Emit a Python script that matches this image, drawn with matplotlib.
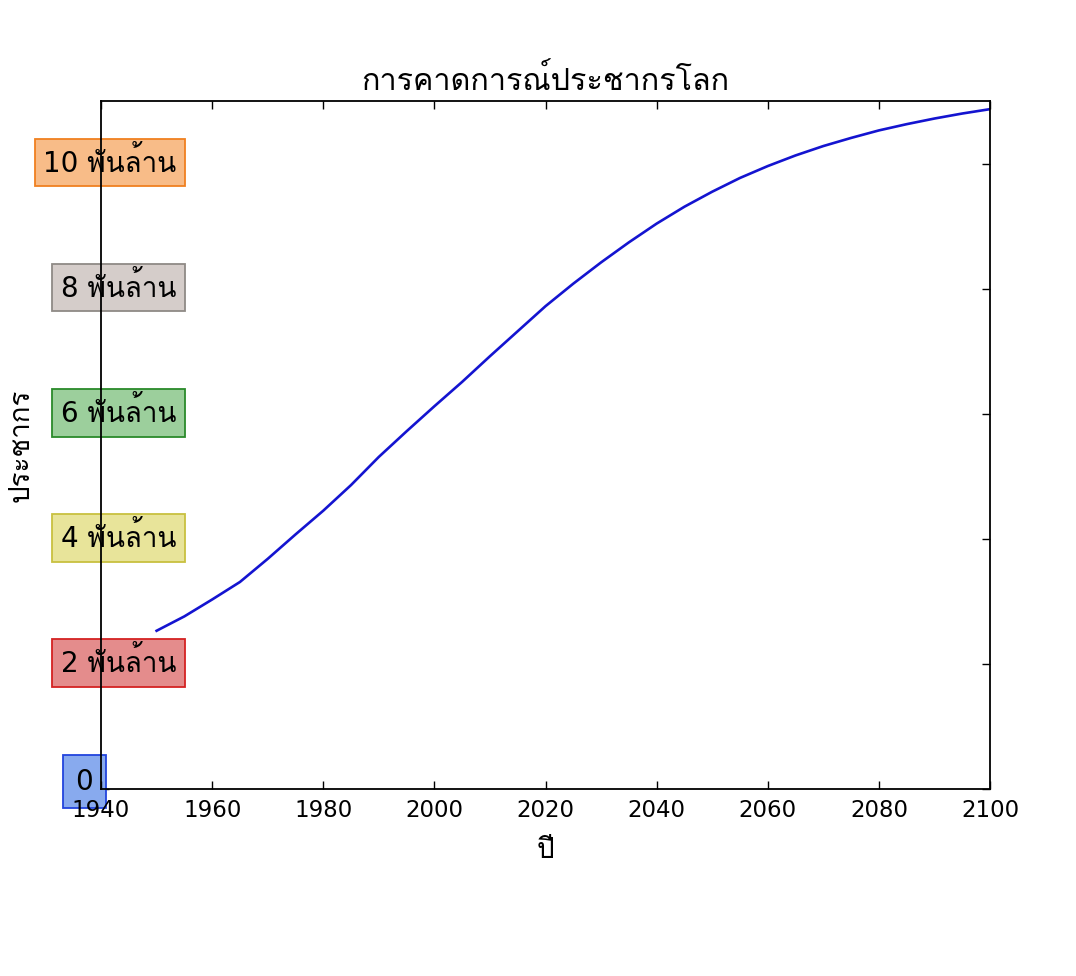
import matplotlib
matplotlib.use("Agg")
import matplotlib.pyplot as plt
import matplotlib.transforms as mtransforms
from matplotlib import font_manager
from matplotlib.ft2font import FT2Font

# world population, billions (UN medium variant)
years = [1950, 1955, 1960, 1965, 1970, 1975, 1980, 1985, 1990, 1995, 2000,
         2005, 2010, 2015, 2020, 2025, 2030, 2035, 2040, 2045, 2050, 2055,
         2060, 2065, 2070, 2075, 2080, 2085, 2090, 2095, 2100]
population = [2.53, 2.76, 3.03, 3.31, 3.68, 4.07, 4.45, 4.86, 5.31, 5.72, 6.12,
              6.51, 6.92, 7.32, 7.72, 8.08, 8.42, 8.74, 9.04, 9.31, 9.55, 9.77,
              9.96, 10.13, 10.28, 10.41, 10.53, 10.63, 10.72, 10.80, 10.87]
ytick_values = [0, 2, 4, 6, 8, 10]
ytick_labels = ["0", "2 พันล้าน", "4 พันล้าน", "6 พันล้าน", "8 พันล้าน", "10 พันล้าน"]
xtick_values = [1940, 1960, 1980, 2000, 2020, 2040, 2060, 2080, 2100]

box_faces = ["#88aaee", "#e48c8c", "#e8e49a", "#9ccf9c", "#d5cdca", "#f8bc88"]
box_edges = ["#2244dd", "#d42222", "#c8c040", "#2a8a2a", "#8f8a86", "#f08020"]


def find_thai_font():
    for f in font_manager.fontManager.ttflist:
        try:
            if ord("ก") in FT2Font(f.fname).get_charmap():
                return f.name
        except Exception:
            pass
    return None


thai = find_thai_font()
families = ["DejaVu Sans"] + ([thai] if thai else [])
plt.rcParams["font.family"] = families

fig = plt.figure(figsize=(10.76, 9.76), dpi=100)
ax = fig.add_axes([0.0939, 0.1916, 0.8262, 0.7049])

ax.plot(years, population, color="#1414d0", lw=1.9)
ax.set_xlim(1940, 2100)
ax.set_ylim(0, 11)

ax.set_xticks(xtick_values)
ax.set_xticklabels([str(v) for v in xtick_values], fontsize=16.5)
ax.set_yticks(ytick_values)
ax.set_yticklabels(ytick_labels, fontsize=20)
ax.tick_params(direction="in", length=6, top=True, right=True, width=1)
ax.tick_params(axis="x", pad=7)
for s in ax.spines.values():
    s.set_linewidth(1.3)
# x tick labels sit on top of the "0" box
ax.xaxis.set_zorder(3)

for i, lab in enumerate(ax.get_yticklabels()):
    pad = "0.45" if i == 0 else "0.3"
    lab.set_bbox(dict(facecolor=box_faces[i], edgecolor=box_edges[i],
                      boxstyle="square,pad=" + pad, lw=1.3))
    dx = -0.03 if i == 0 else 0.80
    dy = 0.10 if i == 0 else 0.04
    lab.set_transform(lab.get_transform() +
                      mtransforms.ScaledTranslation(dx, dy, fig.dpi_scale_trans))

ax.set_title("การคาดการณ์ประชากรโลก", fontsize=22, pad=8)
ax.set_xlabel("ปี", fontsize=20, labelpad=10)
ax.set_ylabel("ประชากร", fontsize=20)
ax.yaxis.set_label_coords(-0.075, 0.5)

fig.savefig("out.png", dpi=100)
